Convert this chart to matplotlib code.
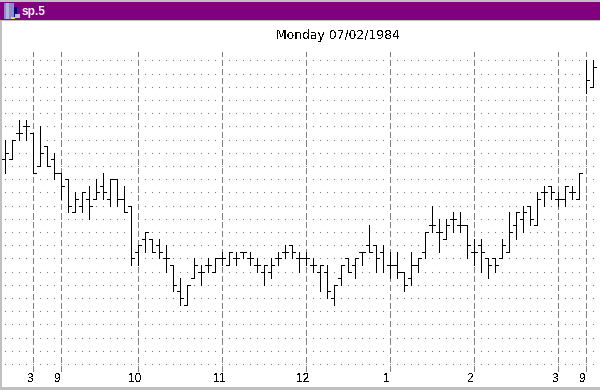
import numpy as np
import matplotlib
matplotlib.use("Agg")
import matplotlib.pyplot as plt
from matplotlib.patches import Rectangle

plt.rcParams["font.family"] = ["Liberation Sans", "DejaVu Sans"]

# =====================
# data: prices in ticks above the lowest grid row, one entry per 5 min bar
# =====================
title = "Monday 07/02/1984"
window_name = "sp.5"

highs = [34, 34, 37, 37, 35, 36, 33, 32, 29, 28, 26, 26, 27, 28, 29, 28, 28, 27, 24, 18, 20,
         19, 19, 18, 15, 13, 12, 16, 15, 16, 16, 17, 17, 17, 17, 17, 16, 15, 16, 17, 18, 18,
         17, 17, 16, 15, 15, 12, 15, 16, 16, 17, 21, 18, 18, 17, 17, 14, 17, 16, 20, 24, 22,
         22, 23, 23, 21, 19, 19, 16, 16, 19, 23, 23, 24, 24, 26, 27, 27, 26, 27, 27, 29, 46, 46]
lows = [29, 31, 34, 34, 29, 30, 30, 28, 25, 23, 23, 23, 22, 25, 25, 24, 24, 23, 15, 15, 17,
        17, 16, 14, 11, 9, 9, 13, 12, 14, 14, 15, 15, 15, 16, 15, 14, 12, 13, 15, 16, 16,
        14, 15, 14, 11, 10, 9, 12, 14, 13, 15, 17, 14, 14, 13, 13, 11, 12, 14, 16, 20, 17,
        19, 20, 20, 16, 15, 14, 13, 14, 16, 17, 19, 20, 21, 21, 24, 25, 24, 24, 25, 25, 41, 42]
opens = [31, 31, 35, 36, 35, 30, 33, 31, 29, 28, 23, 24, 25, 25, 27, 25, 28, 25, 24, 17, 19,
         19, 18, 16, 15, 11, 9, 13, 14, 15, 14, 16, 15, 16, 17, 16, 15, 14, 14, 16, 17, 18,
         16, 16, 15, 14, 14, 10, 13, 16, 15, 17, 18, 18, 17, 15, 15, 14, 13, 15, 17, 21, 20,
         19, 22, 21, 21, 17, 18, 16, 16, 16, 17, 21, 22, 24, 21, 26, 27, 25, 25, 26, 25, np.nan, 42]
closes = [32, 34, 35, 36, 29, 32, 30, 29, 27, 24, 25, 26, 24, 26, 26, 28, 25, 23, 16, 18, 20,
          17, 17, 16, 12, 10, 12, 15, 14, 15, 16, 16, 17, 16, 17, 16, 15, 15, 15, 16, 17, 17,
          16, 16, 15, 15, 11, 12, 15, 14, 16, 17, 17, 16, np.nan, 15, 14, 12, 15, 16, 20, 21, 20,
          21, 22, 21, 18, 17, 17, 15, 15, 18, 20, 23, 23, 22, 25, 26, 26, 25, 27, 26, 29, 43, 45]

# bar index where each hour/session label sits
label_bars = [4, 8, 19, 31, 43, 55, 67, 79, 83]
label_text = ["3", "9", "10", "11", "12", "1", "2", "3", "9"]
grid_rows = np.arange(0, 47, 2)

bars = np.arange(len(highs))
black = "#000000"
grid_color = "#808080"
grey = "#c0c0c0"
one_px = 0.7

# =====================
# figure: one axes over the whole window, 7 px per bar and 6.6 px per tick
# =====================
fig = plt.figure(figsize=(6, 3.9), dpi=100, facecolor="white")
ax = fig.add_axes([0, 0, 1, 1])
ax.set_xlim(-5.33 / 7, (600 - 5.33) / 7)
ax.set_ylim((364 - 390) / 6.6, 364 / 6.6)
ax.axis("off")

# dotted price rows
dot_x, dot_y = np.meshgrid(bars, grid_rows)
ax.plot(dot_x.ravel(), dot_y.ravel(), ls="none", marker="s", ms=0.8, mew=0,
        color=grid_color, antialiased=False, zorder=1)

# dashed session lines
for bar in label_bars:
    ax.plot([bar, bar], [-1.05, 47.3], color=grid_color, lw=one_px, dashes=(5.5, 3.5),
            dash_capstyle="butt", antialiased=False, zorder=2)

# open-high-low-close bars
ax.vlines(bars, lows, highs, color=black, lw=one_px, antialiased=False, zorder=3)
ax.hlines(opens, bars - 0.45, bars, color=black, lw=one_px, antialiased=False, zorder=3)
ax.hlines(closes, bars, bars + 0.45, color=black, lw=one_px, antialiased=False, zorder=3)

# labels under the session lines
for bar, text in zip(label_bars, label_text):
    ax.annotate(text, xy=(bar, 0), xycoords=("data", "figure fraction"),
                xytext=(-3.5, 11), textcoords="offset pixels", ha="center", va="center",
                fontsize=8.6, color=black, antialiased=False)

fig.text(338 / 600, 1 - 35 / 390, title, ha="center", va="center", fontsize=8.9, color=black,
         family="DejaVu Sans", antialiased=False)


# =====================
# window frame, in pixels from the top left
# =====================
def box(x, y, w, h, color):
    fig.add_artist(Rectangle((x / 600, 1 - (y + h) / 390), w / 600, h / 390, color=color,
                             lw=0, antialiased=False, transform=fig.transFigure))


box(0, 0, 600, 2, grey)
box(0, 0, 2, 390, grey)
box(0, 387, 600, 3, grey)
box(0, 2, 600, 17.5, "#800080")
box(0, 19.5, 600, 1.5, grey)

# little icon
box(4, 3, 10, 16, "#8c8cc8")
box(6, 3, 3, 16, "#b4b4e0")
box(14, 7, 3, 11, "#000080")
box(15, 14, 5, 4, "#c0c0c0")
box(11, 17, 4, 2, "#e8e040")

fig.text(22 / 600, 1 - 11.5 / 390, window_name, ha="left", va="center", fontsize=8.6,
         fontweight="bold", color="white")

plt.savefig("out.png", dpi=100)
